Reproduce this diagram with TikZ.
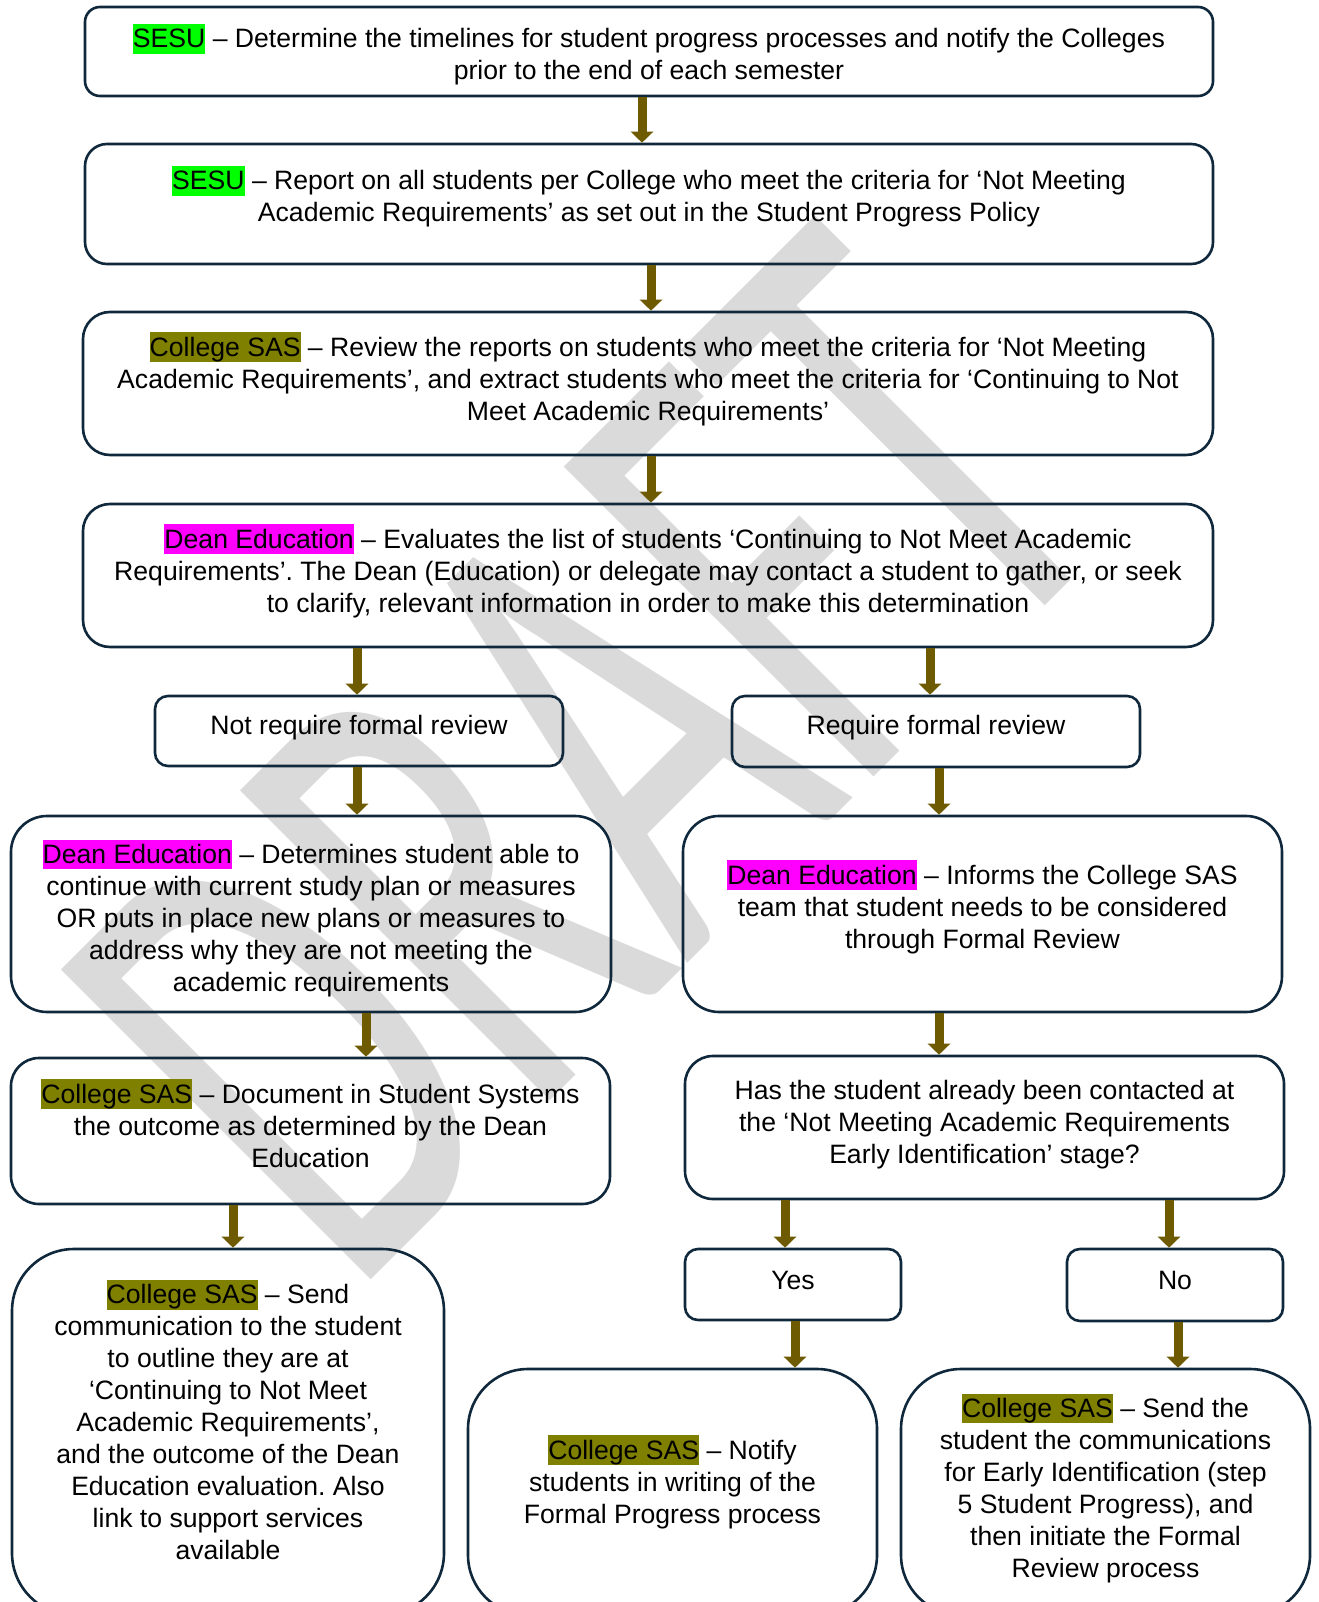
\documentclass[tikz,border=0pt]{standalone}
\usepackage{fontspec}
\setmainfont{Liberation Sans}
\newfontfamily\wmfont{Carlito}
\usetikzlibrary{arrows.meta}
\definecolor{bordc}{RGB}{16,40,60}
\definecolor{arrc}{RGB}{110,90,0}
\definecolor{hlgreen}{RGB}{0,255,0}
\definecolor{hlolive}{RGB}{128,128,0}
\definecolor{hlmag}{RGB}{255,0,255}
\definecolor{wmgray}{RGB}{218,218,218}
\newcommand{\hlt}[2]{{\setlength{\fboxsep}{0pt}\colorbox{#1}{\rule[-0.212em]{0pt}{1.117em}#2}}}
\frenchspacing
\tikzset{
  bx/.style={draw=bordc, line width=2.6pt, rectangle, inner sep=0pt},
  txt/.style={align=center, font=\fontsize{26.6}{32}\selectfont\frenchspacing, inner sep=0pt},
  arr/.style={draw=arrc, line width=9pt, -{Triangle[width=22pt,length=11pt]}}
}
\begin{document}
\begin{tikzpicture}[x=1pt,y=-1pt]
\useasboundingbox (0,0) rectangle (1318,1602);
\clip (0,0) rectangle (1318,1602);
\fill[white] (0,0) rectangle (1318,1602);
% watermark
\begin{scope}[shift={(351,1300)}, rotate=45, xscale=0.6]
\node[transform shape, anchor=base west, inner sep=0pt, text height=440pt, text depth=0pt, text=wmgray, font=\wmfont\fontsize{683}{683}\selectfont] (wm) at (0,0) {DRAFT};
\end{scope}
% boxes
\node[bx, rounded corners=15pt, minimum width=1128pt, minimum height=89pt] (b1) at (649,51.5) {};
\node[bx, rounded corners=22pt, minimum width=1128pt, minimum height=120pt] (b2) at (649,204) {};
\node[bx, rounded corners=27pt, minimum width=1130pt, minimum height=143pt] (b3) at (648,383.5) {};
\node[bx, rounded corners=27pt, minimum width=1130pt, minimum height=143pt] (b4) at (648,575.5) {};
\node[bx, rounded corners=13pt, minimum width=408pt, minimum height=70pt] (b5) at (359,731) {};
\node[bx, rounded corners=13pt, minimum width=408pt, minimum height=71pt] (b6) at (936,731.5) {};
\node[bx, rounded corners=36pt, minimum width=600pt, minimum height=196pt] (b7) at (311,914) {};
\node[bx, rounded corners=36pt, minimum width=599pt, minimum height=196pt] (b8) at (982.5,914) {};
\node[bx, rounded corners=28pt, minimum width=599pt, minimum height=146pt] (b9) at (310.5,1131) {};
\node[bx, rounded corners=28pt, minimum width=599pt, minimum height=143pt] (b10) at (984.5,1127.5) {};
\node[bx, rounded corners=13pt, minimum width=216pt, minimum height=71pt] (b11) at (793,1284.5) {};
\node[bx, rounded corners=13pt, minimum width=216pt, minimum height=72pt] (b12) at (1175,1285) {};
\node[bx, rounded corners=62pt, minimum width=432pt, minimum height=366pt] (b13) at (228,1432) {};
\node[bx, rounded corners=60pt, minimum width=409pt, minimum height=246pt] (b14) at (672.5,1492) {};
\node[bx, rounded corners=60pt, minimum width=409pt, minimum height=246pt] (b15) at (1105.5,1492) {};
% texts
\node[txt] (t1) at (649,56.7) {\strut\hlt{hlgreen}{SESU} – Determine the timelines for student progress processes and notify the Colleges\\\strut prior to the end of each semester};
\node[txt] (t2) at (649,198.7) {\strut\hlt{hlgreen}{SESU} – Report on all students per College who meet the criteria for ‘Not Meeting\\\strut Academic Requirements’ as set out in the Student Progress Policy};
\node[txt] (t3) at (648,381) {\strut\hlt{hlolive}{College SAS} – Review the reports on students who meet the criteria for ‘Not Meeting\\\strut Academic Requirements’, and extract students who meet the criteria for ‘Continuing to Not\\\strut Meet Academic Requirements’};
\node[txt] (t4) at (648,573) {\strut\hlt{hlmag}{Dean Education} – Evaluates the list of students ‘Continuing to Not Meet Academic\\\strut Requirements’. The Dean (Education) or delegate may contact a student to gather, or seek\\\strut to clarify, relevant information in order to make this determination};
\node[txt] (t5) at (359,728.4) {\strut Not require formal review};
\node[txt] (t6) at (936,728.4) {\strut Require formal review};
\node[txt] (t7) at (311,920.5) {\strut\hlt{hlmag}{Dean Education} – Determines student able to\\\strut continue with current study plan or measures\\\strut OR puts in place new plans or measures to\\\strut address why they are not meeting the\\\strut academic requirements};
\node[txt] (t8) at (982.5,909.2) {\strut\hlt{hlmag}{Dean Education} – Informs the College SAS\\\strut team that student needs to be considered\\\strut through Formal Review};
\node[txt] (t9) at (310.5,1128) {\strut\hlt{hlolive}{College SAS} – Document in Student Systems\\\strut the outcome as determined by the Dean\\\strut Education};
\node[txt] (t10) at (984.5,1125.3) {\strut Has the student already been contacted at\\\strut the ‘Not Meeting Academic Requirements\\\strut Early Identification’ stage?};
\node[txt] (t11) at (793,1283.2) {\strut Yes};
\node[txt] (t12) at (1175,1283.2) {\strut No};
\node[txt] (t13) at (228,1424.7) {\strut\hlt{hlolive}{College SAS} – Send\\\strut communication to the student\\\strut to outline they are at\\\strut ‘Continuing to Not Meet\\\strut Academic Requirements’,\\\strut and the outcome of the Dean\\\strut Education evaluation. Also\\\strut link to support services\\\strut available};
\node[txt] (t14) at (672.5,1484) {\strut\hlt{hlolive}{College SAS} – Notify\\\strut students in writing of the\\\strut Formal Progress process};
\node[txt] (t15) at (1105.5,1490.6) {\strut\hlt{hlolive}{College SAS} – Send the\\\strut student the communications\\\strut for Early Identification (step\\\strut 5 Student Progress), and\\\strut then initiate the Formal\\\strut Review process};
% arrow x positions
\coordinate (xa) at (642,0);
\coordinate (xb) at (651,0);
\coordinate (xc) at (357,0);
\coordinate (xd) at (930,0);
\coordinate (xe) at (939,0);
\coordinate (xf) at (366,0);
\coordinate (xg) at (233,0);
\coordinate (xh) at (785,0);
\coordinate (xi) at (1169,0);
\coordinate (xj) at (795,0);
\coordinate (xk) at (1178,0);
% arrows
\draw[arr] (b1.south -| xa) -- (b2.north -| xa);
\draw[arr] (b2.south -| xb) -- (b3.north -| xb);
\draw[arr] (b3.south -| xb) -- (b4.north -| xb);
\draw[arr] (b4.south -| xc) -- (b5.north -| xc);
\draw[arr] (b4.south -| xd) -- (b6.north -| xd);
\draw[arr] (b5.south -| xc) -- (b7.north -| xc);
\draw[arr] (b6.south -| xe) -- (b8.north -| xe);
\draw[arr] (b7.south -| xf) -- (b9.north -| xf);
\draw[arr] (b8.south -| xe) -- (b10.north -| xe);
\draw[arr] (b9.south -| xg) -- (b13.north -| xg);
\draw[arr] (b10.south -| xh) -- (b11.north -| xh);
\draw[arr] (b10.south -| xi) -- (b12.north -| xi);
\draw[arr] (b11.south -| xj) -- (b14.north -| xj);
\draw[arr] (b12.south -| xk) -- (b15.north -| xk);
\end{tikzpicture}
\end{document}
